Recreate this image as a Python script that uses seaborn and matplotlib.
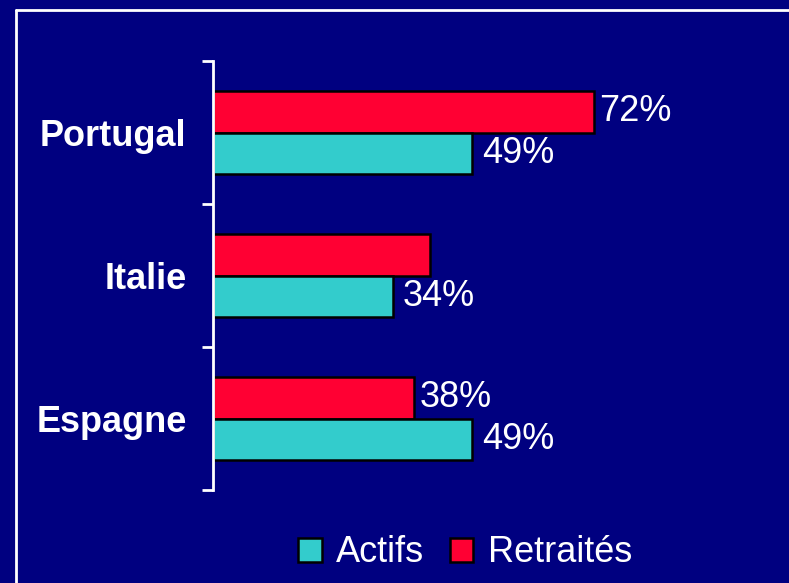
import matplotlib
matplotlib.use('Agg')
import matplotlib.pyplot as plt
import pandas as pd
import seaborn as sns
from matplotlib.lines import Line2D
from matplotlib.patches import Patch
from matplotlib.ticker import FixedLocator

# Data
pays = ['Portugal', 'Italie', 'Espagne']
retraites = [72, 41, 38]
actifs = [49, 34, 49]
retraites_labels = ['72%', '', '38%']
actifs_labels = ['49%', '34%', '49%']
groupes = ['Retraités', 'Actifs']
couleurs = {'Retraités': '#FF0033', 'Actifs': '#33CCCC'}
fond = '#000080'

df = pd.DataFrame({
    'pays': pays * 2,
    'valeur': retraites + actifs,
    'groupe': ['Retraités'] * 3 + ['Actifs'] * 3,
})

sns.set_style('white')
plt.rcParams['font.family'] = ['Liberation Sans', 'DejaVu Sans']

fig = plt.figure(figsize=(7.89, 5.83), dpi=100, facecolor=fond)
ax = fig.add_axes([213 / 789, 1 - 490 / 583, 529 / 789, 429 / 583])
ax.set_facecolor(fond)

sns.barplot(data=df, y='pays', x='valeur', hue='groupe', order=pays,
            hue_order=groupes, palette=couleurs, orient='h', width=0.58,
            saturation=1, edgecolor='black', linewidth=1.8, legend=False, ax=ax)

# value labels
ax.bar_label(ax.containers[0], labels=retraites_labels, padding=4,
             color='white', fontsize=26)
ax.bar_label(ax.containers[1], labels=actifs_labels, padding=7,
             color='white', fontsize=26)

ax.set_xlim(0, 100)
ax.set_ylim(2.5, -0.5)
ax.set_xlabel('')
ax.set_ylabel('')
ax.set_xticks([])
for s in ['top', 'right', 'bottom']:
    ax.spines[s].set_visible(False)
ax.spines['left'].set_color('white')
ax.spines['left'].set_linewidth(2)

ax.yaxis.set_minor_locator(FixedLocator([-0.5, 0.5, 1.5, 2.5]))
ax.tick_params(axis='y', which='major', length=0, pad=19, labelcolor='white',
               labelsize=26)
ax.tick_params(axis='y', which='minor', length=8, width=2, color='white', left=True)
for lab in ax.get_yticklabels():
    lab.set_fontweight('bold')

# outer frame
fig.add_artist(Line2D([16 / 789, 1.0], [1 - 10 / 583] * 2, color='white', lw=2,
                      transform=fig.transFigure))
fig.add_artist(Line2D([16 / 789] * 2, [0, 1 - 10 / 583], color='white', lw=2,
                      transform=fig.transFigure))

handles = [Patch(facecolor=couleurs['Actifs'], edgecolor='black', linewidth=1.8),
           Patch(facecolor=couleurs['Retraités'], edgecolor='black', linewidth=1.8)]
fig.legend(handles, ['Actifs', 'Retraités'], loc='center',
           bbox_to_anchor=(465 / 789, 1 - 553 / 583), ncol=2, frameon=False,
           fontsize=26, labelcolor='white', handlelength=0.66, handleheight=0.66,
           handletextpad=0.4, columnspacing=0.7)

fig.savefig('out.png', dpi=100, facecolor=fond)
